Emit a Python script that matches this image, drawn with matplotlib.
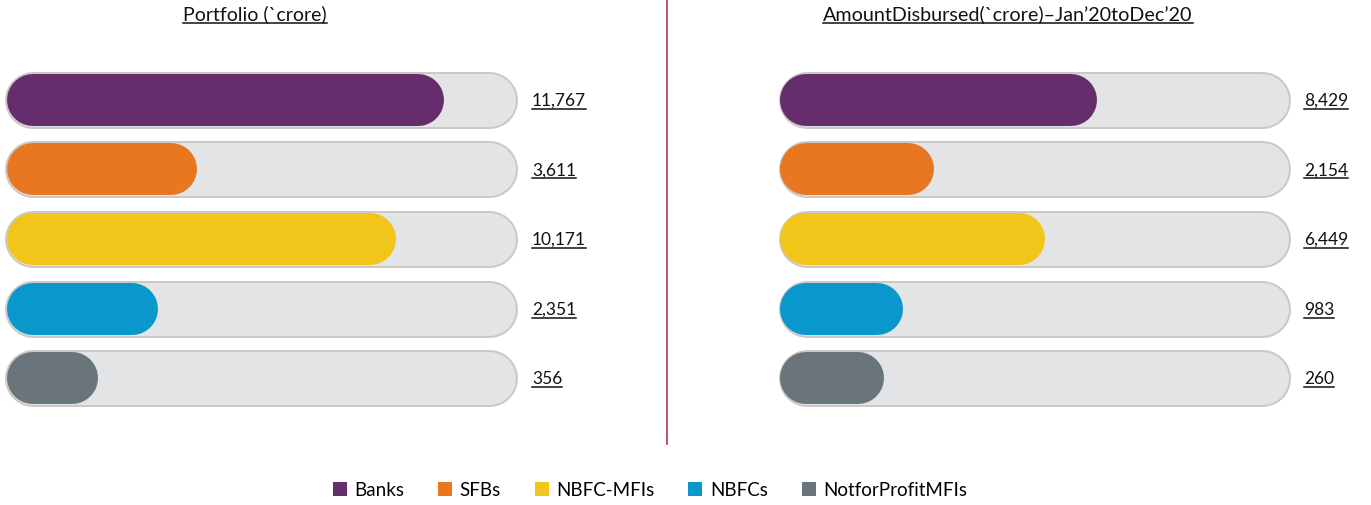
import matplotlib.pyplot as plt
from matplotlib.patches import Patch
from matplotlib.lines import Line2D

plt.rcParams['font.family'] = ['Lato', 'DejaVu Sans']

categories = ["Banks", "SFBs", "NBFC-MFIs", "NBFCs", "NotforProfitMFIs"]
colors = ["#652d6b", "#e87722", "#f2c51b", "#0a97cc", "#6a747b"]
portfolio = [11767, 3611, 10171, 2351, 356]
disbursed = [8429, 2154, 6449, 983, 260]
labels_left = ["11,767", "3,611", "10,171", "2,351", "356"]
labels_right = ["8,429", "2,154", "6,449", "983", "260"]
title_left = "Portfolio (`crore)"
title_right = "AmountDisbursed(`crore)\u2013Jan\u201920toDec\u201920"

W, H = 1371, 506
fig = plt.figure(figsize=(W / 100, H / 100), dpi=100)

TRACK_H = 57   # px
FILL_H = 52    # px


def px_axes(x0, x1, ytop, ybot):
    return fig.add_axes([x0 / W, 1 - ybot / H, (x1 - x0) / W, (ybot - ytop) / H])


def underline_text(x, y, s, size=12.5, **kw):
    t = fig.text(x / W, 1 - y / H, s, fontsize=size, color="#111111", **kw)
    fig.canvas.draw()
    bb = t.get_window_extent()
    yl = bb.y0 - 1
    fig.add_artist(Line2D([bb.x0 / W, bb.x1 / W], [yl / H, yl / H],
                          color="#111111", lw=1.1))
    return t


def panel(x0, x1, vals, texts, xlim, label_x):
    ax = px_axes(x0, x1, 66, 414)
    ax.set_xlim(*xlim)
    ax.set_ylim(len(vals) - 0.5, -0.5)
    ax.axis("off")
    upx = (xlim[1] - xlim[0]) / (x1 - x0)  # data units per pixel
    r_t = TRACK_H / 2 * upx
    r_f = FILL_H / 2 * upx
    for i, (v, c) in enumerate(zip(vals, colors)):
        ax.plot([xlim[0] + r_t, xlim[1] - r_t], [i, i], color="#cdc8c4",
                lw=TRACK_H * 0.72, solid_capstyle="round", clip_on=False)
        ax.plot([xlim[0] + r_t, xlim[1] - r_t], [i, i], color="#e3e4e6",
                lw=(TRACK_H - 4) * 0.72, solid_capstyle="round", clip_on=False)
        ax.plot([xlim[0] + r_f + 2 * upx, v - r_f], [i, i], color=c,
                lw=FILL_H * 0.72, solid_capstyle="round", clip_on=False)
    for i, s in enumerate(texts):
        yc = 66 + (i + 0.5) * (414 - 66) / len(vals)
        underline_text(label_x, yc, s, ha="left", va="center")
    return ax


panel(5, 517, portfolio, labels_left, (-2700, 14160), 532)
panel(778, 1290, disbursed, labels_right, (-3830, 15860), 1304)

underline_text(255, 14, title_left, size=14, ha="center", va="center")
underline_text(1008, 14, title_right, size=14.2, ha="center", va="center")

fig.add_artist(Line2D([667 / W, 667 / W], [1, 1 - 445 / H], color="#b84563", lw=1.3))

handles = [Patch(facecolor=c, edgecolor="none") for c in colors]
fig.legend(handles, categories, loc="center", bbox_to_anchor=(650 / W, 1 - 491 / H),
           ncol=5, frameon=False, fontsize=13.5, handlelength=0.75, handleheight=0.75,
           handletextpad=0.4, columnspacing=1.8)

fig.savefig("out.png", dpi=100)
